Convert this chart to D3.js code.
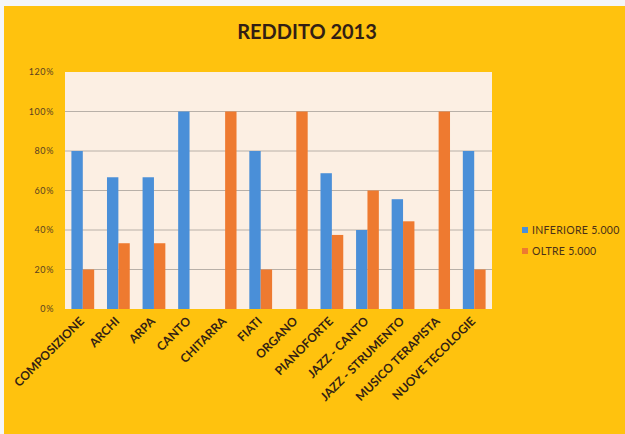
<!DOCTYPE html>
<html>
<head>
<meta charset="utf-8">
<script src="https://cdn.jsdelivr.net/npm/d3@7"></script>
<style>
  html, body { margin: 0; padding: 0; background: #f4f6f8; }
  svg { display: block; }
</style>
</head>
<body>
<div id="chart"></div>
<script>
const categories = [
  "COMPOSIZIONE", "ARCHI", "ARPA", "CANTO", "CHITARRA", "FIATI", "ORGANO",
  "PIANOFORTE", "JAZZ - CANTO", "JAZZ - STRUMENTO", "MUSICO TERAPISTA", "NUOVE TECOLOGIE"
];
const inferiore = [0.80, 0.667, 0.667, 1.00, 0, 0.80, 0, 0.6875, 0.40, 0.556, 0, 0.80];
const oltre = [0.20, 0.333, 0.333, 0, 1.00, 0.20, 1.00, 0.375, 0.60, 0.444, 1.00, 0.20];
const seriesNames = ["INFERIORE 5.000", "OLTRE 5.000"];
const yTicks = [0, 0.2, 0.4, 0.6, 0.8, 1.0, 1.2];

document.addEventListener("DOMContentLoaded", draw);

function draw() {
  const width = 625;
  const height = 434;
  const plot = { left: 65, top: 72, right: 492, bottom: 309 };
  const colors = ["#4a8fd8", "#ee7a30"];

  const svg = d3.select("#chart")
    .append("svg")
    .attr("width", width)
    .attr("height", height);

  // yellow chart area
  svg.append("rect")
    .attr("x", 4).attr("y", 6)
    .attr("width", width - 4).attr("height", height - 6)
    .attr("fill", "#ffc20e");

  svg.append("text")
    .attr("x", 307).attr("y", 39)
    .attr("text-anchor", "middle")
    .attr("font-family", "Lato, sans-serif")
    .attr("font-weight", "bold")
    .attr("font-size", 20)
    .attr("fill", "#331f14")
    .text("REDDITO 2013");

  const x = d3.scaleBand()
    .domain(categories)
    .range([plot.left, plot.right])
    .paddingInner(0.36)
    .paddingOuter(0.18);

  const x1 = d3.scaleBand()
    .domain([0, 1])
    .range([0, x.bandwidth()]);

  const y = d3.scaleLinear()
    .domain([0, 1.2])
    .range([plot.bottom, plot.top]);

  svg.append("rect")
    .attr("x", plot.left).attr("y", plot.top)
    .attr("width", plot.right - plot.left)
    .attr("height", plot.bottom - plot.top)
    .attr("fill", "#fcefe3");

  // gridlines
  svg.append("g")
    .selectAll("line")
    .data(yTicks.slice(1, -1))
    .enter()
    .append("line")
    .attr("x1", plot.left).attr("x2", plot.right)
    .attr("y1", d => y(d)).attr("y2", d => y(d))
    .attr("stroke", "#b8b0a8")
    .attr("stroke-width", 1);

  // y axis labels
  const yAxis = svg.append("g")
    .attr("transform", `translate(${plot.left},0)`)
    .call(d3.axisLeft(y).tickValues(yTicks).tickFormat(d3.format(".0%")).tickSize(0).tickPadding(11));
  yAxis.select(".domain").remove();
  yAxis.selectAll("text")
    .attr("font-family", "Lato, sans-serif")
    .attr("font-size", 9)
    .attr("letter-spacing", 0.6)
    .attr("fill", "#5a4020");

  // bars
  const data = categories.map((c, i) => ({ cat: c, vals: [inferiore[i], oltre[i]] }));
  const groups = svg.append("g")
    .selectAll("g")
    .data(data)
    .enter()
    .append("g")
    .attr("transform", d => `translate(${x(d.cat)},0)`);

  groups.selectAll("rect")
    .data(d => d.vals.map((v, k) => ({ k, v })))
    .enter()
    .append("rect")
    .attr("x", d => x1(d.k))
    .attr("y", d => y(d.v))
    .attr("width", x1.bandwidth())
    .attr("height", d => plot.bottom - y(d.v))
    .attr("fill", d => colors[d.k]);

  // x labels, rotated
  svg.append("g")
    .selectAll("text")
    .data(categories)
    .enter()
    .append("text")
    .attr("transform", d => `translate(${x(d) + x.bandwidth() / 2 + 2},${plot.bottom + 13}) rotate(-45)`)
    .attr("text-anchor", "end")
    .attr("font-family", "Lato, sans-serif")
    .attr("font-weight", "bold")
    .attr("font-size", 12)
    .attr("fill", "#331f14")
    .text(d => d);

  // legend
  const legend = svg.append("g")
    .selectAll("g")
    .data(seriesNames)
    .enter()
    .append("g")
    .attr("transform", (d, i) => `translate(522,${232 + i * 21})`);

  legend.append("rect")
    .attr("x", 0).attr("y", -5)
    .attr("width", 6).attr("height", 6)
    .attr("fill", (d, i) => colors[i]);

  legend.append("text")
    .attr("x", 10).attr("y", 1.5)
    .attr("font-family", "Lato, sans-serif")
    .attr("font-size", 10.5)
    .attr("letter-spacing", 0.3)
    .attr("fill", "#4a3018")
    .text(d => d);
}
</script>
</body>
</html>
